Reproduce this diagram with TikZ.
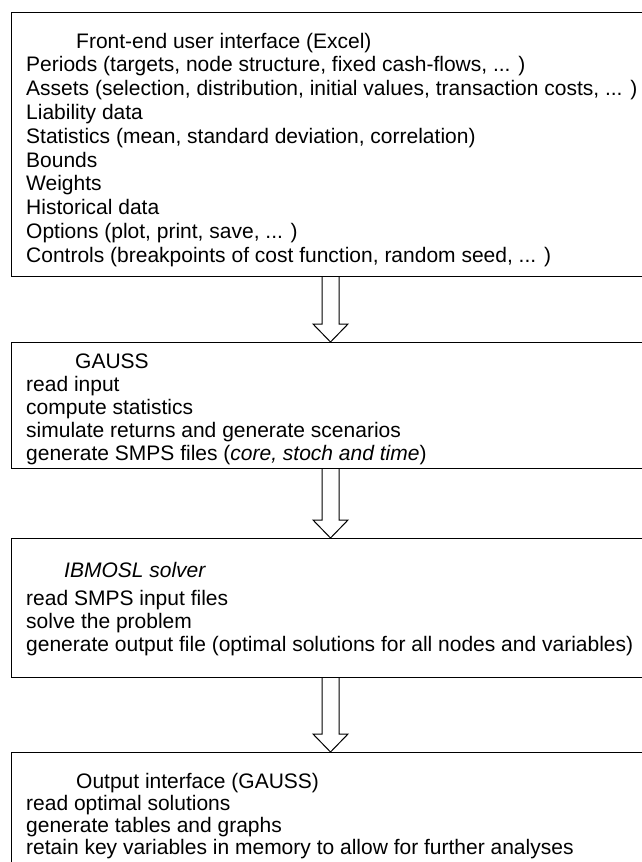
\documentclass[tikz,border=0pt]{standalone}
\usepackage{fontspec}
\setmainfont{Liberation Sans}
\usetikzlibrary{calc}
\tikzset{
  boxframe/.style={draw=black, line width=1pt, inner sep=0pt, anchor=north west, minimum width=660pt},
  txt/.style={anchor=base west, inner sep=0pt, font=\fontsize{21}{23}\selectfont},
  blockarrow/.style={draw=black, line width=1pt, fill=white, line join=miter},
}
\begin{document}
\begin{tikzpicture}[x=1pt,y=-1pt]
\useasboundingbox (0,0) rectangle (642,862);
\clip (0,0) rectangle (642,862);
% boxes
\node[boxframe, minimum height=264pt] (b1) at (11,12) {};
\node[boxframe, minimum height=126pt] (b2) at (11,342) {};
\node[boxframe, minimum height=139pt] (b3) at (11,538) {};
\node[boxframe, minimum height=160pt] (b4) at (11,752) {};
% box 1 text
\node[txt] (t1) at (76,48) {Front-end user interface (Excel)};
\node[txt] (t1a) at (26,71.8) {Periods (targets, node structure, fixed cash-flows, ... )};
\node[txt] (t1b) at (26,95.6) {Assets (selection, distribution, initial values, transaction costs, ... )};
\node[txt] (t1c) at (26,119.4) {Liability data};
\node[txt] (t1d) at (26,143.2) {Statistics (mean, standard deviation, correlation)};
\node[txt] (t1e) at (26,167) {Bounds};
\node[txt] (t1f) at (26,190.8) {Weights};
\node[txt] (t1g) at (26,214.6) {Historical data};
\node[txt] (t1h) at (26,238.4) {Options (plot, print, save, ... )};
\node[txt] (t1i) at (26,262.2) {Controls (breakpoints of cost function, random seed, ... )};
% box 2 text
\node[txt] (t2) at (75,368) {GAUSS};
\node[txt] (t2a) at (26,391) {read input};
\node[txt] (t2b) at (26,414) {compute statistics};
\node[txt] (t2c) at (26,437) {simulate returns and generate scenarios};
\node[txt] (t2d) at (26,460) {generate SMPS files (\textit{core, stoch and time})};
% box 3 text
\node[txt] (t3) at (64,577) {\textit{IBMOSL solver}};
\node[txt] (t3a) at (26,605) {read SMPS input files};
\node[txt] (t3b) at (26,628) {solve the problem};
\node[txt] (t3c) at (26,651) {generate output file (optimal solutions for all nodes and variables)};
% box 4 text
\node[txt] (t4) at (76,788) {Output interface (GAUSS)};
\node[txt] (t4a) at (26,810.5) {read optimal solutions};
\node[txt] (t4b) at (26,832.5) {generate tables and graphs};
\node[txt] (t4c) at (26,854.5) {retain key variables in memory to allow for further analyses};
% hollow block arrows
\foreach \a/\b in {b1/b2, b2/b3, b3/b4}{
  \draw[blockarrow] let \p1=(\a.south), \p2=(\b.north) in
    (322pt,\y1) -- (322pt,\y2+18pt) -- (313pt,\y2+18pt) -- (330.5pt,\y2)
    -- (348pt,\y2+18pt) -- (339pt,\y2+18pt) -- (339pt,\y1);
}
\end{tikzpicture}
\end{document}
